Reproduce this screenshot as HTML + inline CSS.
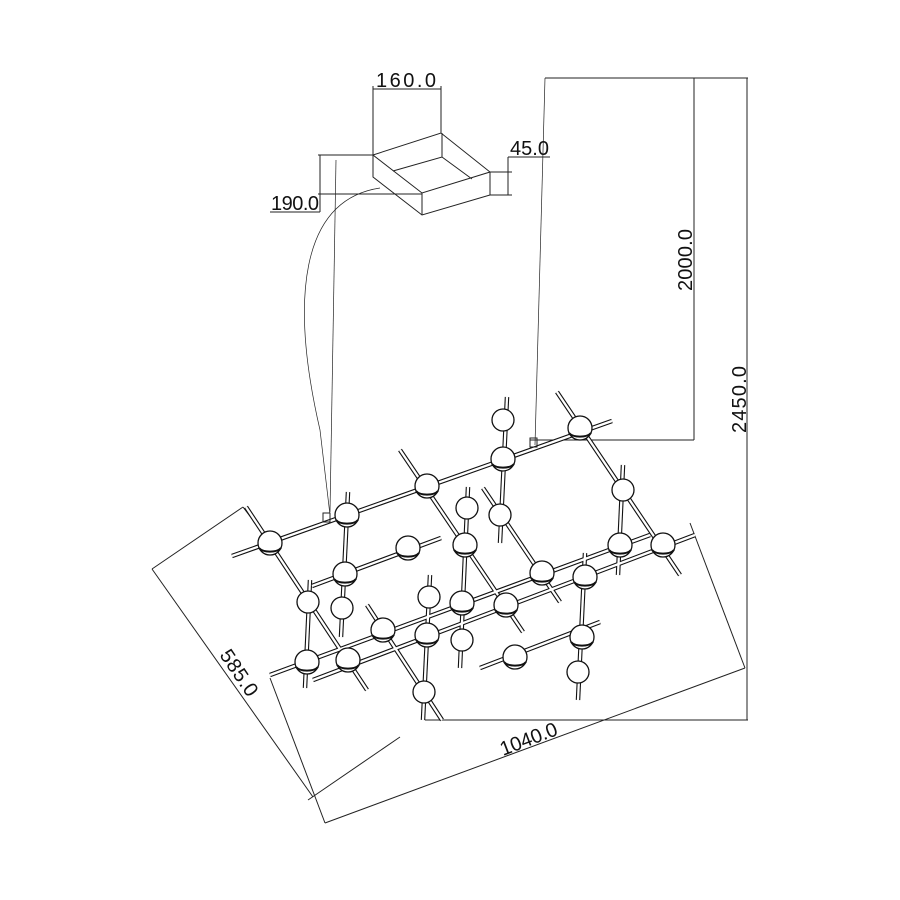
<!DOCTYPE html>
<html><head><meta charset="utf-8"><style>
html,body{margin:0;padding:0;background:#fff;}
svg{display:block;}
text{font-family:"Liberation Sans",sans-serif;font-size:20px;fill:#111;}
</style></head><body>
<svg width="900" height="900" viewBox="0 0 900 900" xmlns="http://www.w3.org/2000/svg">
<g stroke="#222" fill="none" stroke-width="1">
<polygon points="373,155 441,133 490,172 422,193" fill="#fff"/>
<polyline points="393,171 442,157 472,179"/>
<line x1="442" y1="133" x2="442" y2="157"/>
<polyline points="373,155 373,177 422,215 490,195 490,172"/>
<line x1="422" y1="193" x2="422" y2="215"/>
<line x1="373" y1="89" x2="441" y2="89"/>
<line x1="373" y1="86" x2="373" y2="155"/>
<line x1="441" y1="86" x2="441" y2="133"/>
<line x1="318" y1="155" x2="373" y2="155"/>
<line x1="318" y1="194" x2="422" y2="194"/>
<line x1="320" y1="155" x2="320" y2="212"/>
<line x1="270" y1="212" x2="320" y2="212"/>
<line x1="490" y1="172" x2="512" y2="172"/>
<line x1="490" y1="195" x2="512" y2="195"/>
<line x1="508" y1="157" x2="508" y2="195"/>
<line x1="508" y1="157" x2="550" y2="157"/>
<line x1="545" y1="78" x2="748" y2="78"/>
<line x1="545" y1="78" x2="535" y2="445" stroke-width="0.7"/>
<line x1="694" y1="78" x2="694" y2="440"/>
<line x1="530" y1="440" x2="694" y2="440"/>
<line x1="747" y1="78" x2="747" y2="720"/>
<line x1="425" y1="720" x2="748" y2="720"/>
<line x1="336" y1="160" x2="330" y2="512" stroke-width="0.7"/>
<path d="M380,188 C300,200 290,300 320,430 L330,515" stroke-width="0.7"/>
<line x1="152" y1="569" x2="313" y2="797"/>
<line x1="152" y1="569" x2="243" y2="507"/>
<line x1="243" y1="507" x2="262" y2="532"/>
<line x1="308" y1="800" x2="400" y2="737"/>
<line x1="325" y1="823" x2="745" y2="668"/>
<line x1="270" y1="678" x2="325" y2="823"/>
<line x1="690" y1="523" x2="745" y2="668"/>
</g>
<text x="376" y="87" textLength="60">160.0</text>
<text x="271" y="210" textLength="48">190.0</text>
<text x="510" y="155" textLength="39">45.0</text>
<text transform="translate(692,291) rotate(-90)" textLength="62">2000.0</text>
<text transform="translate(746,433) rotate(-90)" textLength="67">2450.0</text>
<text transform="translate(219,655) rotate(56)" textLength="52">585.0</text>
<text transform="translate(503,756) rotate(-21)" textLength="60">1040.0</text>

<g stroke-linecap="butt">
<g stroke="#111" stroke-width="4.5">
<line x1="232" y1="556" x2="612" y2="421"/>
<line x1="270" y1="675" x2="650" y2="535"/>
<line x1="313" y1="680" x2="695" y2="535"/>
<line x1="312" y1="586" x2="441" y2="538"/>
<line x1="480" y1="668" x2="600" y2="622"/>
<line x1="400" y1="450" x2="523" y2="632"/>
<line x1="557" y1="392" x2="680" y2="575"/>
<line x1="246" y1="507" x2="367" y2="690"/>
<line x1="483" y1="488" x2="560" y2="602"/>
<line x1="367" y1="605" x2="442" y2="720"/>
<line x1="348" y1="492" x2="341" y2="637"/>
<line x1="310" y1="580" x2="305" y2="688"/>
<line x1="468" y1="487" x2="460" y2="668"/>
<line x1="507" y1="397" x2="500" y2="543"/>
<line x1="623" y1="465" x2="618" y2="575"/>
<line x1="430" y1="575" x2="423" y2="720"/>
<line x1="585" y1="553" x2="578" y2="700"/>
</g>
<g stroke="#fff" stroke-width="2.3">
<line x1="232" y1="556" x2="612" y2="421"/>
<line x1="270" y1="675" x2="650" y2="535"/>
<line x1="313" y1="680" x2="695" y2="535"/>
<line x1="312" y1="586" x2="441" y2="538"/>
<line x1="480" y1="668" x2="600" y2="622"/>
<line x1="400" y1="450" x2="523" y2="632"/>
<line x1="557" y1="392" x2="680" y2="575"/>
<line x1="246" y1="507" x2="367" y2="690"/>
<line x1="483" y1="488" x2="560" y2="602"/>
<line x1="367" y1="605" x2="442" y2="720"/>
<line x1="348" y1="492" x2="341" y2="637"/>
<line x1="310" y1="580" x2="305" y2="688"/>
<line x1="468" y1="487" x2="460" y2="668"/>
<line x1="507" y1="397" x2="500" y2="543"/>
<line x1="623" y1="465" x2="618" y2="575"/>
<line x1="430" y1="575" x2="423" y2="720"/>
<line x1="585" y1="553" x2="578" y2="700"/>
</g>
</g>
<g stroke="#111" stroke-width="1.3" fill="#fff">
<circle cx="270" cy="543" r="12"/><circle cx="347" cy="515" r="12"/><circle cx="427" cy="486" r="12"/>
<circle cx="503" cy="459" r="12"/><circle cx="580" cy="428" r="12"/><circle cx="503" cy="420" r="11"/>
<circle cx="500" cy="515" r="11"/><circle cx="623" cy="490" r="11"/><circle cx="620" cy="545" r="12"/>
<circle cx="663" cy="545" r="12"/><circle cx="467" cy="508" r="11"/><circle cx="465" cy="545" r="12"/>
<circle cx="462" cy="603" r="12"/><circle cx="462" cy="640" r="11"/><circle cx="408" cy="548" r="12"/>
<circle cx="345" cy="574" r="12"/><circle cx="342" cy="608" r="11"/><circle cx="308" cy="602" r="11"/>
<circle cx="307" cy="662" r="12"/><circle cx="348" cy="660" r="12"/><circle cx="383" cy="630" r="12"/>
<circle cx="429" cy="597" r="11"/><circle cx="427" cy="635" r="12"/><circle cx="424" cy="692" r="11"/>
<circle cx="506" cy="605" r="12"/><circle cx="542" cy="573" r="12"/><circle cx="585" cy="577" r="12"/>
<circle cx="582" cy="637" r="12"/><circle cx="578" cy="672" r="11"/><circle cx="515" cy="657" r="12"/>
</g>
<g stroke="#111" fill="none" stroke-width="2">
<path d="M259,548 a12,6 0 0 0 22,0"/><path d="M336,520 a12,6 0 0 0 22,0"/><path d="M416,491 a12,6 0 0 0 22,0"/>
<path d="M492,464 a12,6 0 0 0 22,0"/><path d="M569,433 a12,6 0 0 0 22,0"/><path d="M609,550 a12,6 0 0 0 22,0"/>
<path d="M652,550 a12,6 0 0 0 22,0"/><path d="M454,550 a12,6 0 0 0 22,0"/><path d="M397,553 a12,6 0 0 0 22,0"/>
<path d="M334,579 a12,6 0 0 0 22,0"/><path d="M296,667 a12,6 0 0 0 22,0"/><path d="M337,665 a12,6 0 0 0 22,0"/>
<path d="M372,635 a12,6 0 0 0 22,0"/><path d="M416,640 a12,6 0 0 0 22,0"/><path d="M495,610 a12,6 0 0 0 22,0"/>
<path d="M531,578 a12,6 0 0 0 22,0"/><path d="M574,582 a12,6 0 0 0 22,0"/><path d="M571,642 a12,6 0 0 0 22,0"/>
<path d="M504,662 a12,6 0 0 0 22,0"/><path d="M451,608 a12,6 0 0 0 22,0"/>
</g>
<g stroke="#222" fill="none" stroke-width="1">
<rect x="323" y="513" width="7" height="9"/>
<rect x="530" y="438" width="7" height="9"/>
</g>
</svg>
</body></html>
